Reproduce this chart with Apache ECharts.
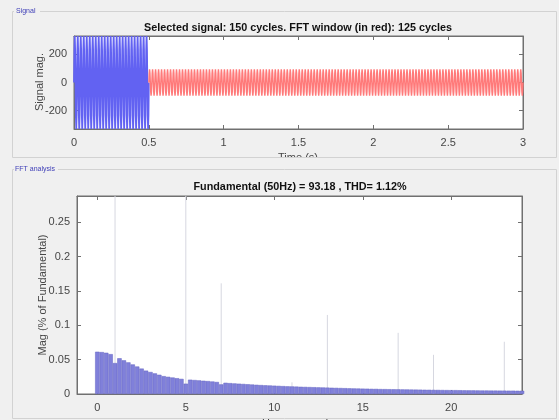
<!DOCTYPE html>
<html style="height:100%">
<head>
    <meta charset="utf-8">
    <script type="text/javascript" src="https://cdn.jsdelivr.net/npm/echarts@6/dist/echarts.min.js"></script>
    <title>FFT analysis</title>
</head>
<body style="height: 100%; margin: 0; background:#f0f0f0">
    <div id="container" style="width:559px;height:420px"></div>
    <script type="text/javascript">
    var myChart = echarts.init(document.getElementById('container'));

    // signal: two segments (blue = selected part before window, red = FFT window)
    const segStart = [0, 0.5];
    const segEnd = [0.5, 3];
    const segAmp = [330, 93];
    const fundHz = 50;
    // one cycle of the waveform, 8 samples
    const cycleShape = [0, 0.71, 1, 0.71, 0, -0.71, -1, -0.71];

    // spectrum bins (step in harmonic order) and magnitudes (% of fundamental)
    const binStep = 0.25;
    const magValues = [
        0.0615, 0.061, 0.060, 0.058, 0.045, 0.052, 0.049, 0.046,
        0.043, 0.040, 0.037, 0.034, 0.032, 0.030, 0.028, 0.026,
        0.025, 0.024, 0.023, 0.022, 0.015, 0.0208, 0.0203, 0.0198,
        0.0193, 0.0188, 0.0182, 0.0175, 0.014, 0.0163, 0.0158, 0.0154,
        0.0150, 0.0146, 0.0142, 0.0138, 0.0134, 0.0130, 0.0127, 0.0124,
        0.0121, 0.0118, 0.0115, 0.0112, 0.0110, 0.0108, 0.0105, 0.0103,
        0.0101, 0.0099, 0.0097, 0.0095, 0.0093, 0.0091, 0.0089, 0.0087,
        0.0085, 0.0083, 0.0081, 0.0080, 0.0078, 0.0077, 0.0075, 0.0074,
        0.0072, 0.0071, 0.0070, 0.0069, 0.0068, 0.0067, 0.0066, 0.0065,
        0.0064, 0.0063, 0.0062, 0.0061, 0.0060, 0.0059, 0.0058, 0.0057,
        0.0056, 0.0056, 0.0055, 0.0054, 0.0053, 0.0053, 0.0052, 0.0051,
        0.0051, 0.0050, 0.0050, 0.0049, 0.0049, 0.0048, 0.0048, 0.0047,
        0.0047
    ];
    // harmonic spikes
    const harmOrders = [1, 5, 7, 11, 13, 17, 19, 23];
    const harmMags = [100, 0.45, 0.161, 0.017, 0.115, 0.089, 0.057, 0.076];

    const timeTicks = [0, 0.5, 1, 1.5, 2, 2.5, 3];
    const sigTicks = [-200, 0, 200];
    const orderTicks = [0, 5, 10, 15, 20];
    const magTicks = [0, 0.05, 0.1, 0.15, 0.2, 0.25];

    const SIG_MAX = 330;
    const MAG_MAX = 0.288;

    // build waveform points by repeating the cycle shape
    function segmentPoints(k) {
        var pts = [];
        var n = cycleShape.length;
        var dt = 1 / fundHz / n;
        var count = Math.round((segEnd[k] - segStart[k]) / dt);
        for (var i = 0; i <= count; i++) {
            pts.push([segStart[k] + i * dt, segAmp[k] * cycleShape[i % n]]);
        }
        return pts;
    }

    var barData = magValues.map(function(v, i) { return [i * binStep, v]; });
    var spikeData = harmOrders.map(function(h, i) { return [h, harmMags[i]]; });

    var font = '"Liberation Sans", Arial, sans-serif';
    var axisCol = '#707070';
    var lblCol = '#474747';

    function makeAxis(grid, min, max, ticks, pos, showLbl, margin) {
        return {
            type: 'value', gridIndex: grid, min: min, max: max, position: pos,
            axisLine: { show: true, onZero: false, lineStyle: { color: axisCol } },
            axisTick: { show: true, inside: true, length: 4, customValues: ticks, lineStyle: { color: axisCol } },
            axisLabel: { show: showLbl, customValues: ticks, color: lblCol, fontSize: 11, fontFamily: font, margin: margin },
            splitLine: { show: false }
        };
    }

    var option = {
        backgroundColor: '#f0f0f0',
        animation: false,
        grid: [
            { left: 74, top: 36, width: 449, height: 93, show: true, backgroundColor: '#fff', borderColor: axisCol, borderWidth: 1 },
            { left: 77, top: 196, width: 445, height: 198, show: true, backgroundColor: '#fff', borderColor: axisCol, borderWidth: 1 }
        ],
        xAxis: [
            makeAxis(0, 0, 3, timeTicks, 'bottom', true, 8),
            makeAxis(0, 0, 3, timeTicks, 'top', false, 8),
            makeAxis(1, -1.15, 24, orderTicks, 'bottom', true, 8),
            makeAxis(1, -1.15, 24, orderTicks, 'top', false, 8)
        ],
        yAxis: [
            makeAxis(0, -SIG_MAX, SIG_MAX, sigTicks, 'left', true, 7),
            makeAxis(0, -SIG_MAX, SIG_MAX, sigTicks, 'right', false, 7),
            makeAxis(1, 0, MAG_MAX, magTicks, 'left', true, 7),
            makeAxis(1, 0, MAG_MAX, magTicks, 'right', false, 7)
        ],
        series: [
            {
                type: 'line', xAxisIndex: 0, yAxisIndex: 0, data: segmentPoints(0),
                showSymbol: false, lineStyle: { color: '#6262f2', width: 1.8 }, z: 3
            },
            {
                type: 'line', xAxisIndex: 0, yAxisIndex: 0, data: segmentPoints(1),
                showSymbol: false, lineStyle: { color: '#ff7a7a', width: 1.4 }, z: 3
            },
            {
                type: 'custom', xAxisIndex: 2, yAxisIndex: 2, data: spikeData, z: 1,
                renderItem: function(params, api) {
                    var h = api.value(0);
                    var v = Math.min(api.value(1), MAG_MAX);
                    var p0 = api.coord([h, 0]);
                    var p1 = api.coord([h, v]);
                    return {
                        type: 'line',
                        shape: { x1: p0[0], y1: p0[1], x2: p1[0], y2: p1[1] },
                        style: { stroke: '#d6d7e0', lineWidth: 1 }
                    };
                }
            },
            {
                type: 'bar', xAxisIndex: 2, yAxisIndex: 2, data: barData, z: 2,
                barWidth: 4.4,
                itemStyle: { color: '#8080da', borderColor: '#6464c2', borderWidth: 0.5 }
            }
        ],
        graphic: [
            { type: 'text', x: 298, y: 28, style: { text: 'Selected signal: 150 cycles. FFT window (in red): 125 cycles', font: 'bold 10.8px ' + font, fill: '#111', align: 'center', verticalAlign: 'middle' } },
            { type: 'text', x: 300, y: 187, style: { text: 'Fundamental (50Hz) = 93.18 , THD= 1.12%', font: 'bold 10.8px ' + font, fill: '#111', align: 'center', verticalAlign: 'middle' } },
            { type: 'text', x: 40, y: 82, rotation: Math.PI / 2, style: { text: 'Signal mag.', font: '11px ' + font, fill: lblCol, align: 'center', verticalAlign: 'middle' } },
            { type: 'text', x: 43, y: 295, rotation: Math.PI / 2, style: { text: 'Mag (% of Fundamental)', font: '11px ' + font, fill: lblCol, align: 'center', verticalAlign: 'middle' } },
            { type: 'text', x: 298, y: 158, style: { text: 'Time (s)', font: '11px ' + font, fill: lblCol, align: 'center', verticalAlign: 'middle' } },
            { type: 'text', x: 300, y: 423, style: { text: 'Harmonic order', font: '11px ' + font, fill: lblCol, align: 'center', verticalAlign: 'middle' } },
            // hide lower half of clipped axis names
            { type: 'rect', shape: { x: 240, y: 157.5, width: 120, height: 10 }, style: { fill: '#f0f0f0' } },
            // panels
            { type: 'rect', shape: { x: 12.5, y: 11.5, width: 544, height: 146 }, style: { fill: null, stroke: '#d2d2d2', lineWidth: 1 } },
            { type: 'rect', shape: { x: 12.5, y: 169.5, width: 544, height: 249 }, style: { fill: null, stroke: '#d2d2d2', lineWidth: 1 } },
            { type: 'rect', shape: { x: 14, y: 6, width: 26, height: 10 }, style: { fill: '#f0f0f0' } },
            { type: 'rect', shape: { x: 14, y: 164, width: 44, height: 10 }, style: { fill: '#f0f0f0' } },
            { type: 'text', x: 16, y: 11, style: { text: 'Signal', font: '7px ' + font, fill: '#4040b8', verticalAlign: 'middle' } },
            { type: 'text', x: 15, y: 169, style: { text: 'FFT analysis', font: '7px ' + font, fill: '#4040b8', verticalAlign: 'middle' } }
        ]
    };

    myChart.setOption(option);
    </script>
</body>
</html>
